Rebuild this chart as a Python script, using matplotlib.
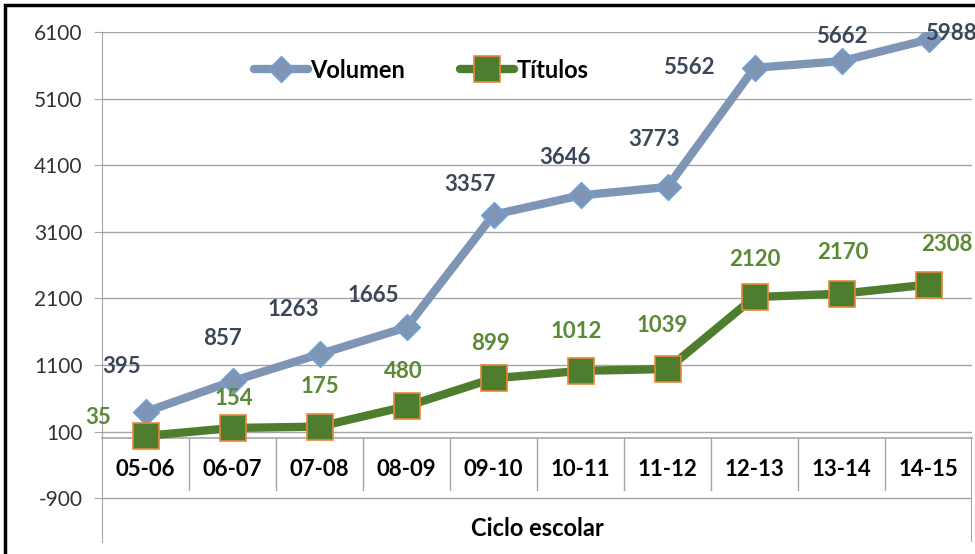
import matplotlib.pyplot as plt
from matplotlib.patches import Rectangle

ciclos = ["05-06", "06-07", "07-08", "08-09", "09-10",
          "10-11", "11-12", "12-13", "13-14", "14-15"]
volumen = [395, 857, 1263, 1665, 3357, 3646, 3773, 5562, 5662, 5988]
titulos = [35, 154, 175, 480, 899, 1012, 1039, 2120, 2170, 2308]
y_ticks = [-900, 100, 1100, 2100, 3100, 4100, 5100, 6100]

# label offsets in points (dx, dy)
vol_off = [(-17, 33), (-7, 31), (-19, 32), (-24, 23), (-17, 22),
           (-11, 27), (-10, 34), (-47, 0), (0, 18), (16, 4)]
tit_off = [(-34, 13), (1, 21), (0, 29), (-2, 25), (-2, 25),
           (-3, 28), (-4, 31), (0, 27), (1, 30), (13, 29)]

FONT = "Lato"
VOL_C = "#7f95b5"
TIT_C = "#4e7d2e"
GRID_C = "#a6a6a6"

fig = plt.figure(figsize=(9.75, 5.54), dpi=100)
ax = fig.add_axes([102 / 975, 1 - 542 / 554, 870 / 975, 510 / 554])

x = list(range(len(ciclos)))
ax.plot(x, volumen, color=VOL_C, lw=6, marker="D", ms=13,
        mfc=VOL_C, mec="#6fa3dc", mew=1, solid_capstyle="round",
        label="Volumen", zorder=3)
ax.plot(x, titulos, color=TIT_C, lw=6, marker="s", ms=19,
        mfc=TIT_C, mec="#e8873a", mew=1.2, solid_capstyle="round",
        label="Títulos", zorder=4)

for i, v in enumerate(volumen):
    ax.annotate(str(v), (i, v), xytext=vol_off[i], textcoords="offset points",
                ha="center", va="center", fontsize=16, fontweight="bold",
                color="#3a4759", family=FONT)
for i, v in enumerate(titulos):
    ax.annotate(str(v), (i, v), xytext=tit_off[i], textcoords="offset points",
                ha="center", va="center", fontsize=16, fontweight="bold",
                color="#5a8a34", family=FONT)

ax.set_xlim(-0.5, len(ciclos) - 0.5)
ax.set_ylim(-1558, 6100)
ax.set_yticks(y_ticks)
ax.set_yticklabels([str(t) for t in y_ticks], fontsize=15, color="#333333",
                   family=FONT)
ax.tick_params(axis="y", length=6, color=GRID_C, pad=8)
ax.yaxis.grid(True, color=GRID_C, lw=1)
ax.set_axisbelow(True)

# category axis at 0, labels in a table-like band
ax.spines["bottom"].set_position(("data", 0))
ax.spines["bottom"].set_color(GRID_C)
ax.spines["bottom"].set_linewidth(1.2)
ax.set_xticks(x)
ax.set_xticklabels(ciclos, fontsize=16, fontweight="bold", family=FONT)
ax.tick_params(axis="x", length=0, pad=15)
for b in [i + 0.5 for i in x[:-1]]:
    ax.plot([b, b], [0, -780], color=GRID_C, lw=1, zorder=1)
ax.plot([len(ciclos) - 0.5] * 2, [0, -1558], color=GRID_C, lw=1.5, zorder=1)
ax.text((len(ciclos) - 1) / 2, -1360, "Ciclo escolar", ha="center",
        va="center", fontsize=17, fontweight="bold", family=FONT)

ax.spines["top"].set_visible(False)
ax.spines["right"].set_visible(False)
ax.spines["left"].set_color(GRID_C)

leg = ax.legend(loc="center left", bbox_to_anchor=(0.15, 0.925), ncol=2,
                frameon=False, handlelength=2.3, handletextpad=0.1,
                columnspacing=2.3,
                prop={"family": FONT, "weight": "bold", "size": 17})

# outer frame
fig.patches.append(Rectangle((5 / 975, -0.1), 1.2, 1 - 5 / 554 + 0.1,
                             transform=fig.transFigure, fill=False,
                             ec="black", lw=2.5))

fig.savefig("out.png", dpi=100)
